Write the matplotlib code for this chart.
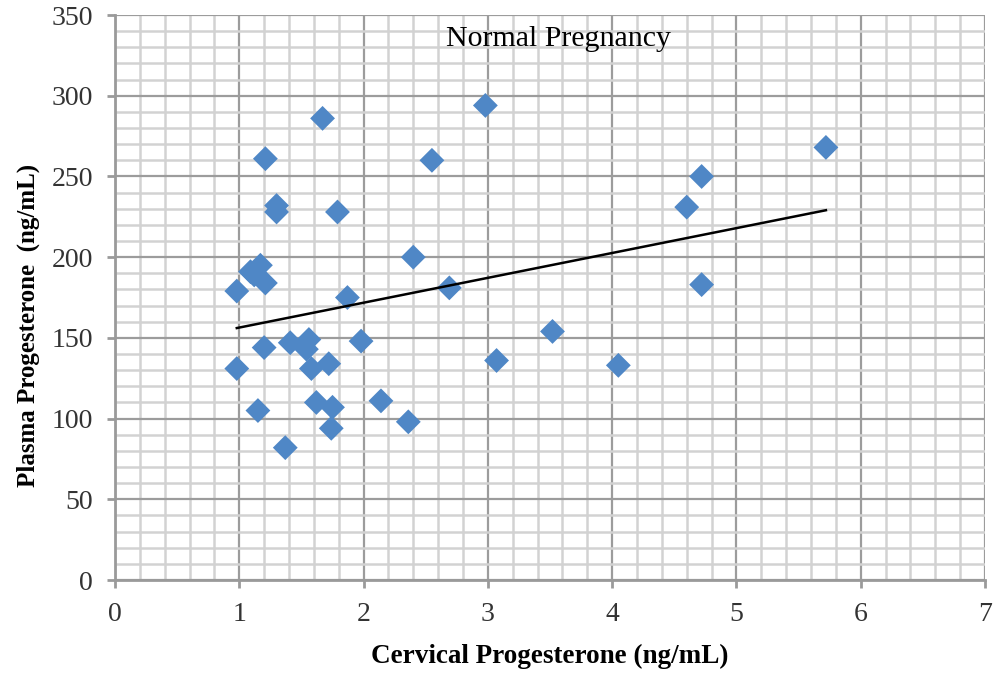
import matplotlib
matplotlib.use("Agg")
import matplotlib.pyplot as plt
from matplotlib.ticker import MultipleLocator

# Data
cervical = [0.98, 0.98, 1.09, 1.12, 1.17, 1.21, 1.21, 1.30, 1.30, 1.67, 1.79,
            1.15, 1.20, 1.37, 1.41, 1.56, 1.54, 1.58, 1.62, 1.72, 1.75, 1.74,
            1.87, 1.98, 2.14, 2.36, 2.40, 2.55, 2.69, 2.98, 3.07, 3.52, 4.05,
            4.60, 4.72, 4.72, 5.72]
plasma = [179, 131, 191, 189, 195, 184, 261, 232, 228, 286, 228,
          105, 144, 82, 147, 149, 143, 131, 110, 134, 107, 94,
          175, 148, 111, 98, 200, 260, 181, 294, 136, 154, 133,
          231, 250, 183, 268]

# linear trend line
trend_x = [min(cervical), max(cervical)]
trend_slope = 15.4
trend_intercept = 141.0

fig = plt.figure(figsize=(10, 6.84), dpi=100)
ax = fig.add_axes([0.115, 0.152, 0.87, 0.826])

ax.set_xlim(0, 7)
ax.set_ylim(0, 350)
ax.xaxis.set_major_locator(MultipleLocator(1))
ax.xaxis.set_minor_locator(MultipleLocator(0.2))
ax.yaxis.set_major_locator(MultipleLocator(50))
ax.yaxis.set_minor_locator(MultipleLocator(10))

ax.grid(which='minor', color='#d2d2d2', linewidth=1.8)
ax.grid(which='major', color='#9c9c9c', linewidth=1.6)
ax.set_axisbelow(True)

for side in ['top', 'right']:
    ax.spines[side].set_visible(False)
for side in ['left', 'bottom']:
    ax.spines[side].set_color('#9a9a9a')
    ax.spines[side].set_linewidth(2)

ax.tick_params(which='major', direction='out', length=6, width=2, color='#9a9a9a',
               labelsize=20, pad=10)
ax.tick_params(which='minor', length=0)
for lab in ax.get_xticklabels() + ax.get_yticklabels():
    lab.set_family('Liberation Serif')
    lab.set_color('#333333')

ax.scatter(cervical, plasma, marker='D', s=160, color='#4f87c6', zorder=3,
           edgecolors='none')
ax.plot(trend_x, [trend_intercept + trend_slope * v for v in trend_x],
        color='black', linewidth=1.8, zorder=4)

ax.text(3.57, 335, 'Normal Pregnancy', ha='center', va='center',
        fontsize=21.5, family='Liberation Serif')

ax.set_xlabel('Cervical Progesterone (ng/mL)', fontsize=19.5, fontweight='bold',
              family='Liberation Serif', labelpad=12)
ax.set_ylabel('Plasma Progesterone  (ng/mL)', fontsize=18, fontweight='bold',
              family='Liberation Serif')
ax.yaxis.set_label_coords(-0.086, 0.45)

fig.savefig('out.png', dpi=100)
